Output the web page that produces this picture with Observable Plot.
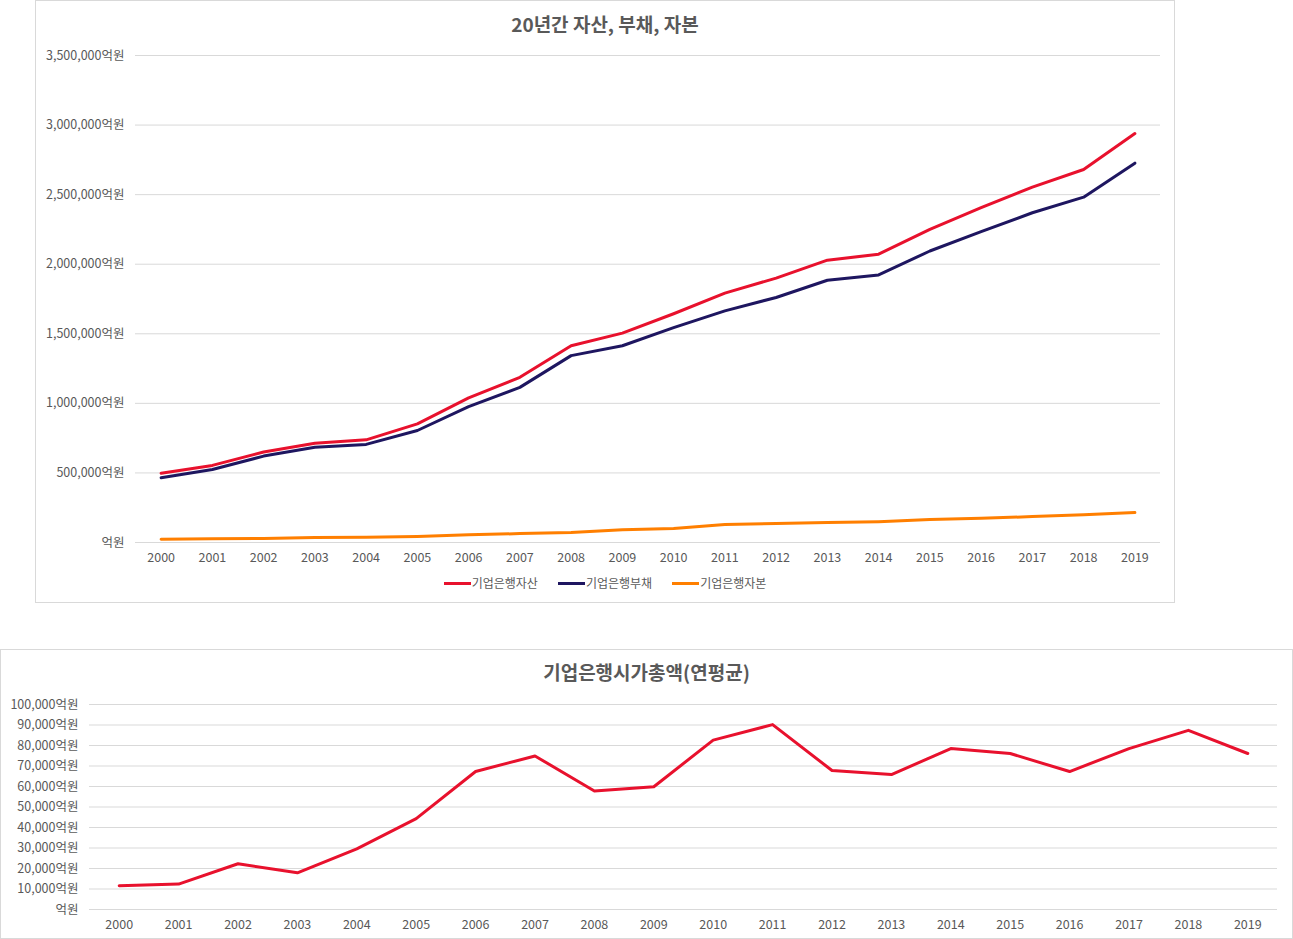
<!DOCTYPE html>
<html>
<head>
<meta charset="utf-8">
<script src="https://cdn.jsdelivr.net/npm/d3@7"></script>
<script src="https://cdn.jsdelivr.net/npm/@observablehq/plot@0.6"></script>
<style>
  html, body { margin: 0; padding: 0; background: #fff; }
  body { width: 1293px; height: 939px; position: relative; font-family: "Noto Sans CJK KR", "Noto Sans", sans-serif; color: #595959; }
  .box { position: absolute; border: 1px solid #d9d9d9; background: #fff; }
  .title { position: absolute; left: 0; right: 0; text-align: center; font-size: 19px; font-weight: bold; line-height: 24px; color: #595959; }
  .plot { position: absolute; left: 0; }
  .legend { position: absolute; left: 0; right: 0; text-align: center; font-size: 12px; line-height: 16px; color: #595959; }
  .legend span.item { display: inline-block; margin: 0 10px; }
  .legend span.sw { display: inline-block; width: 27px; height: 3px; vertical-align: middle; margin-right: 1px; position: relative; top: -1px; }
</style>
</head>
<body>
<div class="box" id="box1" style="left:35px; top:0px; width:1138px; height:601px;">
  <div class="title" style="top:11px;">20년간 자산, 부채, 자본</div>
  <div class="plot" id="chart1" style="top:39px;"></div>
  <div class="legend" id="legend1" style="top:574px;"></div>
</div>
<div class="box" id="box2" style="left:0px; top:649px; width:1291px; height:288px;">
  <div class="title" style="top:10px;">기업은행시가총액(연평균)</div>
  <div class="plot" id="chart2" style="top:40px;"></div>
</div>
<script>
// ---- data ----
const years = ["2000","2001","2002","2003","2004","2005","2006","2007","2008","2009",
               "2010","2011","2012","2013","2014","2015","2016","2017","2018","2019"];

const seriesNames = ["기업은행자산", "기업은행부채", "기업은행자본"];
const seriesColors = ["#E8112D", "#1E1660", "#FF7F00"];

const assets = [498000, 554000, 650000, 714000, 738000, 853000, 1039000, 1187000, 1414000, 1505000,
                1644000, 1792000, 1900000, 2029000, 2072000, 2251000, 2406000, 2554000, 2681000, 2939000];
const liabilities = [465000, 525000, 621000, 685000, 705000, 805000, 977000, 1115000, 1343000, 1414000,
                     1544000, 1665000, 1761000, 1885000, 1923000, 2095000, 2234000, 2370000, 2482000, 2726000];
const capital = [24000, 27000, 29000, 36000, 37000, 44000, 55000, 64000, 72000, 91000,
                 100000, 129000, 136000, 143000, 150000, 165000, 174000, 186000, 200000, 215000];

const yTicks1 = [0, 500000, 1000000, 1500000, 2000000, 2500000, 3000000, 3500000];

const marketCap = [11600, 12400, 22300, 17900, 29600, 44300, 67300, 74900, 57800, 59900,
                   82600, 90200, 67800, 65800, 78500, 76100, 67300, 78500, 87400, 76100];
const yTicks2 = [0, 10000, 20000, 30000, 40000, 50000, 60000, 70000, 80000, 90000, 100000];

// ---- helpers ----
const fmt = d => (d === 0 ? "" : d3.format(",")(d)) + "억원";
const fontStyle = {fontFamily: '"Noto Sans CJK KR", "Noto Sans", sans-serif', fontSize: "12.5px", color: "#595959", background: "transparent", overflow: "visible"};

// ---- chart 1 ----
const table1 = [];
[assets, liabilities, capital].forEach((arr, i) => {
  arr.forEach((v, j) => table1.push({year: years[j], value: v, series: seriesNames[i]}));
});

const chart1 = Plot.plot({
  width: 1138,
  height: 530,
  marginLeft: 99,
  marginRight: 14,
  marginTop: 15,
  marginBottom: 28,
  style: fontStyle,
  x: {type: "point", domain: years, padding: 0.5, round: false, label: null},
  y: {domain: [0, 3500000], label: null},
  color: {domain: seriesNames, range: seriesColors},
  marks: [
    Plot.gridY(yTicks1, {stroke: "#d9d9d9", strokeOpacity: 1, strokeWidth: 1}),
    Plot.axisX({tickSize: 0, tickPadding: 11, label: null, fill: "#595959"}),
    Plot.axisY(yTicks1, {tickSize: 0, tickPadding: 11, tickFormat: fmt, label: null, fill: "#595959"}),
    Plot.line(table1, {x: "year", y: "value", z: "series", stroke: "series", strokeWidth: 3, strokeLinejoin: "round", strokeLinecap: "round"})
  ]
});
document.getElementById("chart1").appendChild(chart1);

const legend1 = document.getElementById("legend1");
seriesNames.forEach((name, i) => {
  const item = document.createElement("span");
  item.className = "item";
  item.innerHTML = `<span class="sw" style="background:${seriesColors[i]}"></span>${name}`;
  legend1.appendChild(item);
});

// ---- chart 2 ----
const table2 = marketCap.map((v, j) => ({year: years[j], value: v}));

const chart2 = Plot.plot({
  width: 1291,
  height: 245,
  marginLeft: 88,
  marginRight: 15,
  marginTop: 14,
  marginBottom: 26,
  style: fontStyle,
  x: {type: "point", domain: years, padding: 0.5, round: false, label: null},
  y: {domain: [0, 100000], label: null},
  marks: [
    Plot.gridY(yTicks2, {stroke: "#d9d9d9", strokeOpacity: 1, strokeWidth: 1}),
    Plot.axisX({tickSize: 0, tickPadding: 11, label: null, fill: "#595959"}),
    Plot.axisY(yTicks2, {tickSize: 0, tickPadding: 11, tickFormat: fmt, label: null, fill: "#595959"}),
    Plot.line(table2, {x: "year", y: "value", stroke: seriesColors[0], strokeWidth: 3, strokeLinejoin: "round", strokeLinecap: "round"})
  ]
});
document.getElementById("chart2").appendChild(chart2);
</script>
</body>
</html>
